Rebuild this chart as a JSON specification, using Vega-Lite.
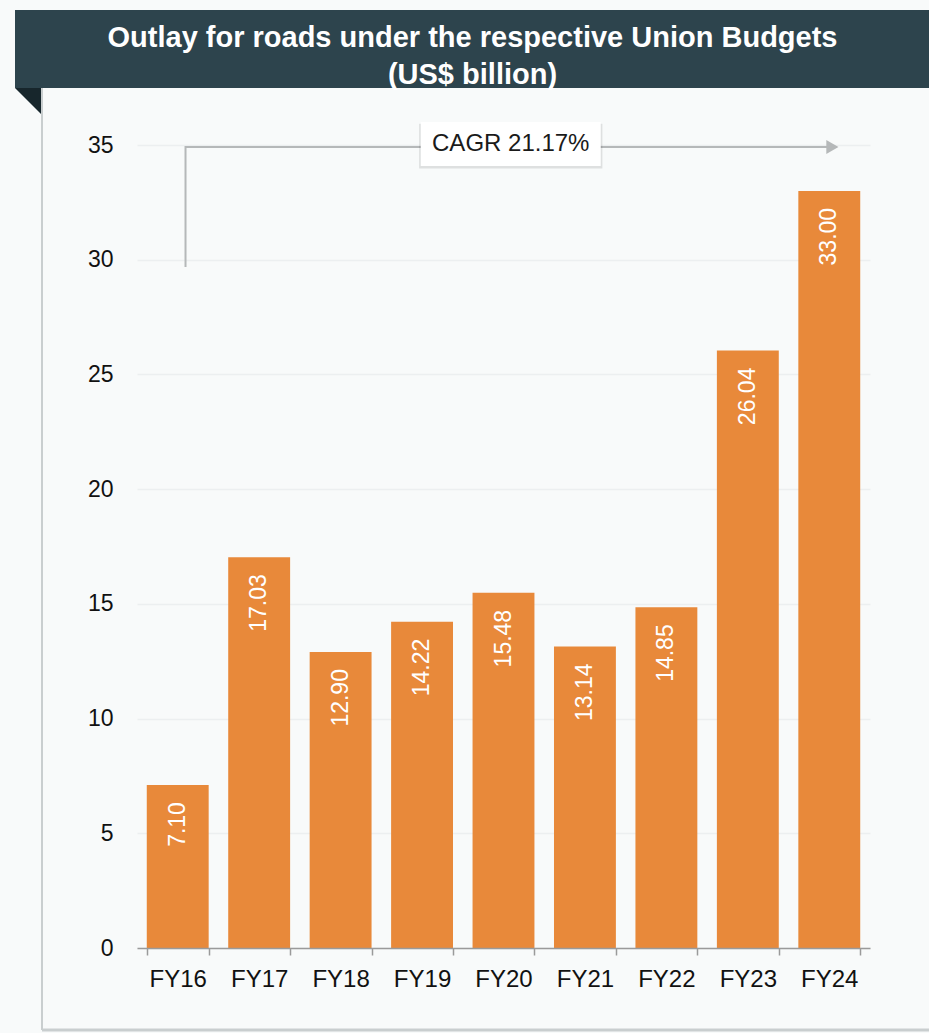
{
  "$schema": "https://vega.github.io/schema/vega-lite/v6.json",
  "width": 733,
  "height": 803,
  "autosize": {"type": "none"},
  "padding": {"left": 137, "top": 145, "right": 59, "bottom": 85},
  "background": "#f8fafa",
  "title": {
    "text": ["Outlay for roads under the respective Union Budgets", "(US$ billion)"],
    "color": "#ffffff",
    "fontSize": 29,
    "font": "Liberation Sans",
    "fontWeight": "bold",
    "anchor": "middle",
    "frame": "group",
    "dx": -31,
    "lineHeight": 37,
    "offset": -80
  },
  "config": {
    "view": {"stroke": null},
    "font": "Liberation Sans",
    "axis": {"labelFont": "Liberation Sans", "labelColor": "#111111", "title": null}
  },
  "datasets": {
    "budget": [
      {"year": "FY16", "outlay": 7.10},
      {"year": "FY17", "outlay": 17.03},
      {"year": "FY18", "outlay": 12.90},
      {"year": "FY19", "outlay": 14.22},
      {"year": "FY20", "outlay": 15.48},
      {"year": "FY21", "outlay": 13.14},
      {"year": "FY22", "outlay": 14.85},
      {"year": "FY23", "outlay": 26.04},
      {"year": "FY24", "outlay": 33.00}
    ],
    "cagrPath": [
      {"year": "FY16", "v": 29.68, "k": 0},
      {"year": "FY16", "v": 34.91, "k": 1},
      {"year": "FY24", "v": 34.91, "k": 2}
    ],
    "cagrArrow": [{"year": "FY24", "v": 34.91}],
    "cagrLabel": [{"year": "FY20", "v": 35.04, "label": "CAGR 21.17%"}]
  },
  "layer": [
    {
      "data": {"values": [{}]},
      "mark": {"type": "rect", "color": "#2d444d"},
      "encoding": {
        "x": {"value": -122},
        "x2": {"value": 800},
        "y": {"value": -135},
        "y2": {"value": -57}
      }
    },
    {
      "data": {"values": [{}]},
      "mark": {"type": "point", "filled": true, "opacity": 1, "color": "#17262c", "shape": "M-1,-1L1,-1L1,1Z", "size": 729},
      "encoding": {
        "x": {"value": -108.5},
        "y": {"value": -43.5}
      }
    },
    {
      "data": {"values": [{}]},
      "mark": {"type": "rule", "color": "#c9cecf", "strokeWidth": 2},
      "encoding": {
        "x": {"value": -95},
        "y": {"value": -57},
        "y2": {"value": 885}
      }
    },
    {
      "data": {"values": [{}]},
      "mark": {"type": "rule", "color": "#c9cecf", "strokeWidth": 3},
      "encoding": {
        "x": {"value": -95},
        "x2": {"value": 800},
        "y": {"value": 885}
      }
    },
    {
      "data": {"name": "budget"},
      "mark": {"type": "bar", "color": "#e8893a"},
      "encoding": {
        "x": {
          "field": "year",
          "type": "nominal",
          "sort": null,
          "scale": {"paddingInner": 0.24, "paddingOuter": 0.12},
          "axis": {
            "labelAngle": 0,
            "labelFontSize": 24,
            "labelPadding": 12,
            "domainColor": "#9a9a9a",
            "domainWidth": 1.5,
            "tickColor": "#9a9a9a",
            "tickWidth": 1.5,
            "tickSize": 7,
            "tickBand": "extent",
            "zindex": 1
          }
        },
        "y": {
          "field": "outlay",
          "type": "quantitative",
          "scale": {"domain": [0, 35], "nice": false},
          "axis": {
            "values": [0, 5, 10, 15, 20, 25, 30, 35],
            "domain": false,
            "ticks": false,
            "labelFontSize": 23,
            "labelPadding": 24,
            "grid": true,
            "gridColor": "#eceff0",
            "gridWidth": 1.5
          }
        }
      }
    },
    {
      "data": {"name": "budget"},
      "mark": {"type": "text", "angle": 270, "align": "right", "baseline": "middle", "dx": -17, "color": "#ffffff", "fontSize": 23},
      "encoding": {
        "x": {"field": "year", "type": "nominal", "sort": null},
        "y": {"field": "outlay", "type": "quantitative"},
        "text": {"field": "outlay", "type": "quantitative", "format": ".2f"}
      }
    },
    {
      "data": {"name": "cagrPath"},
      "mark": {"type": "line", "color": "#b5b8b9", "strokeWidth": 2},
      "encoding": {
        "x": {"field": "year", "type": "nominal", "sort": null, "bandPosition": 0.626},
        "y": {"field": "v", "type": "quantitative"},
        "order": {"field": "k"}
      }
    },
    {
      "data": {"name": "cagrArrow"},
      "mark": {"type": "point", "shape": "triangle-right", "filled": true, "opacity": 1, "color": "#b5b8b9", "size": 196},
      "encoding": {
        "x": {"field": "year", "type": "nominal", "sort": null, "bandPosition": 0.55},
        "y": {"field": "v", "type": "quantitative"}
      }
    },
    {
      "data": {"name": "cagrLabel"},
      "mark": {"type": "point", "shape": "M-1,-0.2444L1,-0.2444L1,0.2444L-1,0.2444Z", "filled": true, "opacity": 0.1, "color": "#000000", "size": 33600, "yOffset": 2},
      "encoding": {
        "x": {"field": "year", "type": "nominal", "sort": null, "bandPosition": 0.617},
        "y": {"field": "v", "type": "quantitative"}
      }
    },
    {
      "data": {"name": "cagrLabel"},
      "mark": {"type": "point", "shape": "M-1,-0.2444L1,-0.2444L1,0.2444L-1,0.2444Z", "filled": true, "opacity": 1, "color": "#ffffff", "size": 32400},
      "encoding": {
        "x": {"field": "year", "type": "nominal", "sort": null, "bandPosition": 0.617},
        "y": {"field": "v", "type": "quantitative"}
      }
    },
    {
      "data": {"name": "cagrLabel"},
      "mark": {"type": "text", "align": "center", "baseline": "middle", "color": "#1a1a1a", "fontSize": 24},
      "encoding": {
        "x": {"field": "year", "type": "nominal", "sort": null, "bandPosition": 0.617},
        "y": {"field": "v", "type": "quantitative"},
        "text": {"field": "label"}
      }
    }
  ]
}
